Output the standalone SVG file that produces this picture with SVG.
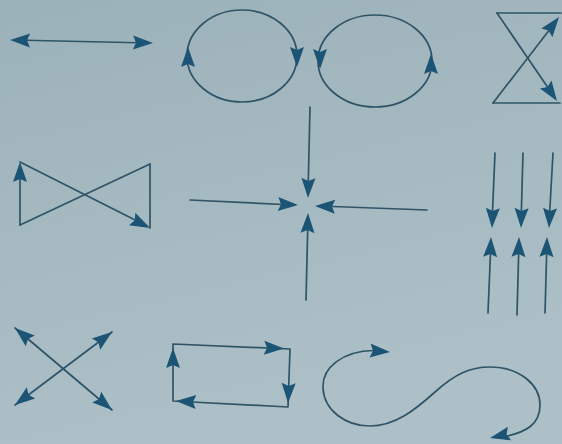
<svg xmlns="http://www.w3.org/2000/svg" xmlns:xlink="http://www.w3.org/1999/xlink" width="562" height="444" viewBox="0 0 562 444">
  <defs>
    <linearGradient id="bg" x1="0" y1="0" x2="0.3" y2="1">
      <stop offset="0" stop-color="#9bb1b9"/>
      <stop offset="0.5" stop-color="#a5b9c0"/>
      <stop offset="1" stop-color="#adc0c7"/>
    </linearGradient>
    <path id="ah" d="M0,0 L-20,-7 L-17,0 L-20,7 Z"/>
  </defs>
  <style>
    .ln { fill: none; stroke: #2f5468; stroke-width: 1.7; stroke-linecap: round; stroke-linejoin: round; }
    use { fill: #1b5474; }
  </style>
  <rect width="562" height="444" fill="url(#bg)"/>

  <g id="double-arrow">
    <line class="ln" x1="14" y1="40" x2="149" y2="43"/>
    <use xlink:href="#ah" transform="translate(153,43) rotate(1.2)"/>
    <use xlink:href="#ah" transform="translate(10,40) rotate(181.2)"/>
  </g>

  <g id="two-loops">
    <ellipse class="ln" cx="242" cy="56" rx="55" ry="46"/>
    <use xlink:href="#ah" transform="translate(188,47) rotate(-90)"/>
    <use xlink:href="#ah" transform="translate(297,67) rotate(90)"/>
    <ellipse class="ln" cx="375" cy="61" rx="57" ry="46"/>
    <use xlink:href="#ah" transform="translate(320,69) rotate(90)"/>
    <use xlink:href="#ah" transform="translate(431,54) rotate(-90)"/>
  </g>

  <g id="hourglass">
    <line class="ln" x1="497" y1="13" x2="561" y2="13"/>
    <line class="ln" x1="493" y1="103" x2="560" y2="103"/>
    <line class="ln" x1="497" y1="13" x2="555" y2="98"/>
    <line class="ln" x1="493" y1="103" x2="557" y2="20"/>
    <use xlink:href="#ah" transform="translate(557,101) rotate(55.7)"/>
    <use xlink:href="#ah" transform="translate(559,17) rotate(-52.5)"/>
  </g>

  <g id="bowtie">
    <line class="ln" x1="20" y1="225" x2="20" y2="166"/>
    <line class="ln" x1="20" y1="162" x2="147" y2="226"/>
    <line class="ln" x1="150" y1="164" x2="150" y2="228"/>
    <line class="ln" x1="20" y1="225" x2="150" y2="164"/>
    <use xlink:href="#ah" transform="translate(20,162) rotate(-90)"/>
    <use xlink:href="#ah" transform="translate(150,228) rotate(26.9)"/>
  </g>

  <g id="converging-cross">
    <line class="ln" x1="310" y1="107" x2="308" y2="194"/>
    <line class="ln" x1="190" y1="200" x2="294" y2="205"/>
    <line class="ln" x1="427" y1="210" x2="319" y2="206"/>
    <line class="ln" x1="306" y1="300" x2="308" y2="217"/>
    <use xlink:href="#ah" transform="translate(308,198) rotate(91.3)"/>
    <use xlink:href="#ah" transform="translate(298,205) rotate(2.7)"/>
    <use xlink:href="#ah" transform="translate(315,206) rotate(182)"/>
    <use xlink:href="#ah" transform="translate(308,213) rotate(-88.7)"/>
  </g>

  <g id="three-columns">
    <line class="ln" x1="495" y1="153" x2="492" y2="224"/>
    <line class="ln" x1="488" y1="313" x2="491" y2="241"/>
    <use xlink:href="#ah" transform="translate(492,228) rotate(92.4)"/>
    <use xlink:href="#ah" transform="translate(491,237) rotate(-87.6)"/>
    <line class="ln" x1="523" y1="153" x2="521" y2="224"/>
    <line class="ln" x1="517" y1="315" x2="519" y2="241"/>
    <use xlink:href="#ah" transform="translate(521,228) rotate(91.6)"/>
    <use xlink:href="#ah" transform="translate(519,237) rotate(-88.5)"/>
    <line class="ln" x1="553" y1="153" x2="549" y2="224"/>
    <line class="ln" x1="545" y1="313" x2="547" y2="241"/>
    <use xlink:href="#ah" transform="translate(549,228) rotate(93)"/>
    <use xlink:href="#ah" transform="translate(547,237) rotate(-88.5)"/>
  </g>

  <g id="diverging-x">
    <line class="ln" x1="15" y1="328" x2="112" y2="410"/>
    <line class="ln" x1="15" y1="405" x2="112" y2="332"/>
    <use xlink:href="#ah" transform="translate(112,410) rotate(40.2)"/>
    <use xlink:href="#ah" transform="translate(15,328) rotate(220.2)"/>
    <use xlink:href="#ah" transform="translate(112,332) rotate(-37)"/>
    <use xlink:href="#ah" transform="translate(15,405) rotate(143)"/>
  </g>

  <g id="rectangle-loop">
    <polygon class="ln" points="173,344 290,349 288,407 173,401"/>
    <use xlink:href="#ah" transform="translate(284,348.5) rotate(2.4)"/>
    <use xlink:href="#ah" transform="translate(288,403) rotate(92)"/>
    <use xlink:href="#ah" transform="translate(176,401) rotate(183)"/>
    <use xlink:href="#ah" transform="translate(173,348) rotate(-90)"/>
  </g>

  <g id="s-curve">
    <path class="ln" d="M 374 350.5 C 342 351, 322 368, 323 388 C 324 410, 345 426, 370 426 C 395 426, 415 410, 435 392 C 455 374, 470 367, 490 367 C 520 367, 540 385, 540 405 C 540 425, 525 432, 507 436"/>
    <use xlink:href="#ah" transform="translate(390,352) rotate(4)"/>
    <use xlink:href="#ah" transform="translate(490,438) rotate(167)"/>
  </g>
</svg>
